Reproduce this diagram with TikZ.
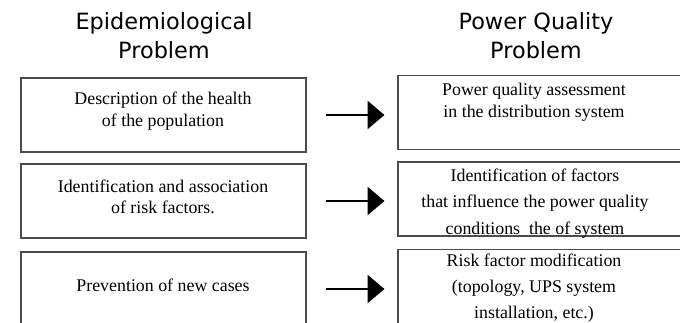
\documentclass[tikz,border=0pt]{standalone}
\usepackage{fontspec}
\setmainfont{Liberation Serif}
\newfontfamily\headfont{DejaVu Sans}
\usepackage{xcolor}
\usepackage{tikz}
\usetikzlibrary{shapes,arrows,arrows.meta}
\tikzstyle{block} = [rectangle, draw=black!70, line width=0.9pt, fill=white, inner sep=0pt, minimum height=55.5pt]
\tikzstyle{leftblock} = [block, minimum width=213.75pt]
\tikzstyle{rightblock} = [block, minimum width=219pt]
\tikzstyle{head} = [align=center, anchor=north, inner sep=0pt, font=\headfont\fontsize{16.8}{21.75}\selectfont]
\tikzstyle{txt} = [align=center, anchor=north, inner sep=0pt]
\tikzstyle{line} = [draw, line width=0.9pt, shorten <=14.25pt, shorten >=9.75pt, -{Triangle[length=12.5pt,width=21pt]}]

\begin{document}
\begin{tikzpicture}[x=0.75pt, y=-0.75pt]
\clip (0,0) rectangle (680,322);
\node [head] (epi-title) at (164,12) {Epidemiological\\Problem};
\node [head] (pq-title) at (536,12) {Power Quality\\Problem};
% left column
\node [leftblock] (epi-1) at (163.5,115) {};
\node [leftblock] (epi-2) at (163.5,201) {};
\node [leftblock] (epi-3) at (163.5,289) {};
% right column
\node [rightblock] (pq-1) at (544,112.5) {};
\node [rightblock] (pq-2) at (544,199) {};
\node [rightblock] (pq-3) at (544,286.5) {};
% texts
\node [txt, font=\fontsize{13.4}{16.8}\selectfont] (epi-1-text) at (163,91.5) {Description of the health\\of the population};
\node [txt, font=\fontsize{13.4}{16.3}\selectfont] (epi-2-text) at (163,179.2) {Identification and association\\of risk factors.};
\node [txt, font=\fontsize{13.4}{16.3}\selectfont] (epi-3-text) at (163,278.5) {Prevention of new cases};
\node [txt, font=\fontsize{13.4}{16.5}\selectfont] (pq-1-text) at (534,82.5) {Power quality assessment\\in the distribution system};
\node [txt, font=\fontsize{13.4}{20}\selectfont] (pq-2-text) at (535,168.2) {Identification of factors\\that influence the power quality\\conditions~ the of system};
\node [txt, font=\fontsize{13.4}{19.5}\selectfont] (pq-3-text) at (534,253.5) {Risk factor modification\\(topology, UPS system\\installation, etc.)};
% arrows
\path [line] (epi-1.east) -- (epi-1.east -| pq-1.west);
\path [line] (epi-2.east) -- (epi-2.east -| pq-2.west);
\path [line] (epi-3.east) -- (epi-3.east -| pq-3.west);
\end{tikzpicture}
\end{document}
